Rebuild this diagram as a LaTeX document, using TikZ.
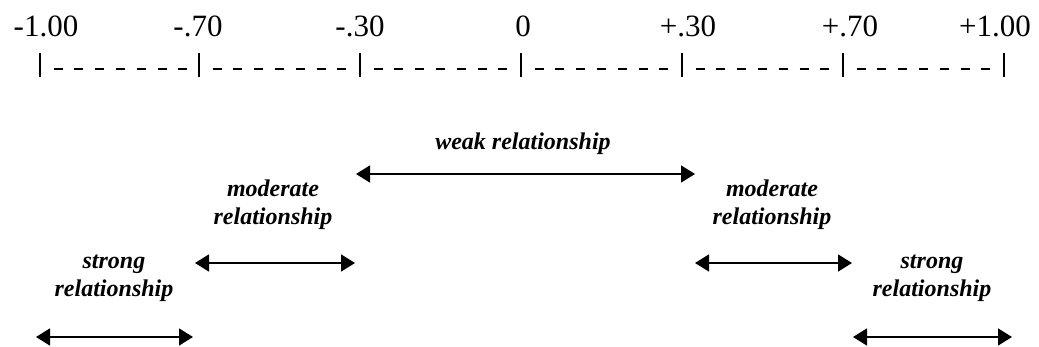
\documentclass[tikz,border=0pt]{standalone}
\usepackage{fontspec}
\setmainfont{Liberation Serif}
\usetikzlibrary{arrows.meta}
\begin{document}
\begin{tikzpicture}[x=1pt,y=-1pt,
  numlabel/.style={font=\fontsize{31}{34}\selectfont, inner sep=0pt, anchor=base},
  rellabel/.style={font=\fontsize{24}{28.5}\selectfont\bfseries\itshape, inner sep=0pt, align=center, anchor=base},
  tickmark/.style={line width=2pt},
  dashmark/.style={line width=1.6pt},
  spanarrow/.style={line width=1.5pt, {Triangle[length=14pt,width=17pt]}-{Triangle[length=14pt,width=17pt]}}]
\useasboundingbox (0,0) rectangle (1039,347);
% ticks
\foreach \i/\x in {0/40,1/199,2/360,3/521,4/682,5/843,6/1004}{
  \coordinate (t\i) at (\x,54);
  \draw[tickmark] (\x,53) -- (\x,77);
}
% dashes
\foreach \x in {40,199,360,521,682,843}{
  \foreach \k in {0,...,6}{
    \draw[dashmark] ({\x+13.5+20.8*\k},69) -- ({\x+22.5+20.8*\k},69);
  }
}
% numbers
\node[numlabel] (n0) at (46,37) {-1.00};
\node[numlabel] (n1) at (198,37) {-.70};
\node[numlabel] (n2) at (360,37) {-.30};
\node[numlabel] (n3) at (523,37) {0};
\node[numlabel] (n4) at (688,37) {+.30};
\node[numlabel] (n5) at (850,37) {+.70};
\node[numlabel] (n6) at (995,37) {+1.00};
% labels (base anchor = baseline of last line)
\node[rellabel] (weak) at (523,150) {weak relationship};
\node[rellabel] (modL) at (273,225) {moderate\\relationship};
\node[rellabel] (modR) at (772,225) {moderate\\relationship};
\node[rellabel] (strL) at (114,297) {strong\\relationship};
\node[rellabel] (strR) at (932,297) {strong\\relationship};
% arrow end points
\coordinate (wa) at (356,174); \coordinate (wb) at (695,174);
\coordinate (mla) at (195,263); \coordinate (mlb) at (355,263);
\coordinate (mra) at (695,263); \coordinate (mrb) at (852,263);
\coordinate (sla) at (36,337); \coordinate (slb) at (193,337);
\coordinate (sra) at (853,337); \coordinate (srb) at (1012,337);
\draw[spanarrow] (wa) -- (wb);
\draw[spanarrow] (mla) -- (mlb);
\draw[spanarrow] (mra) -- (mrb);
\draw[spanarrow] (sla) -- (slb);
\draw[spanarrow] (sra) -- (srb);
\end{tikzpicture}
\end{document}
